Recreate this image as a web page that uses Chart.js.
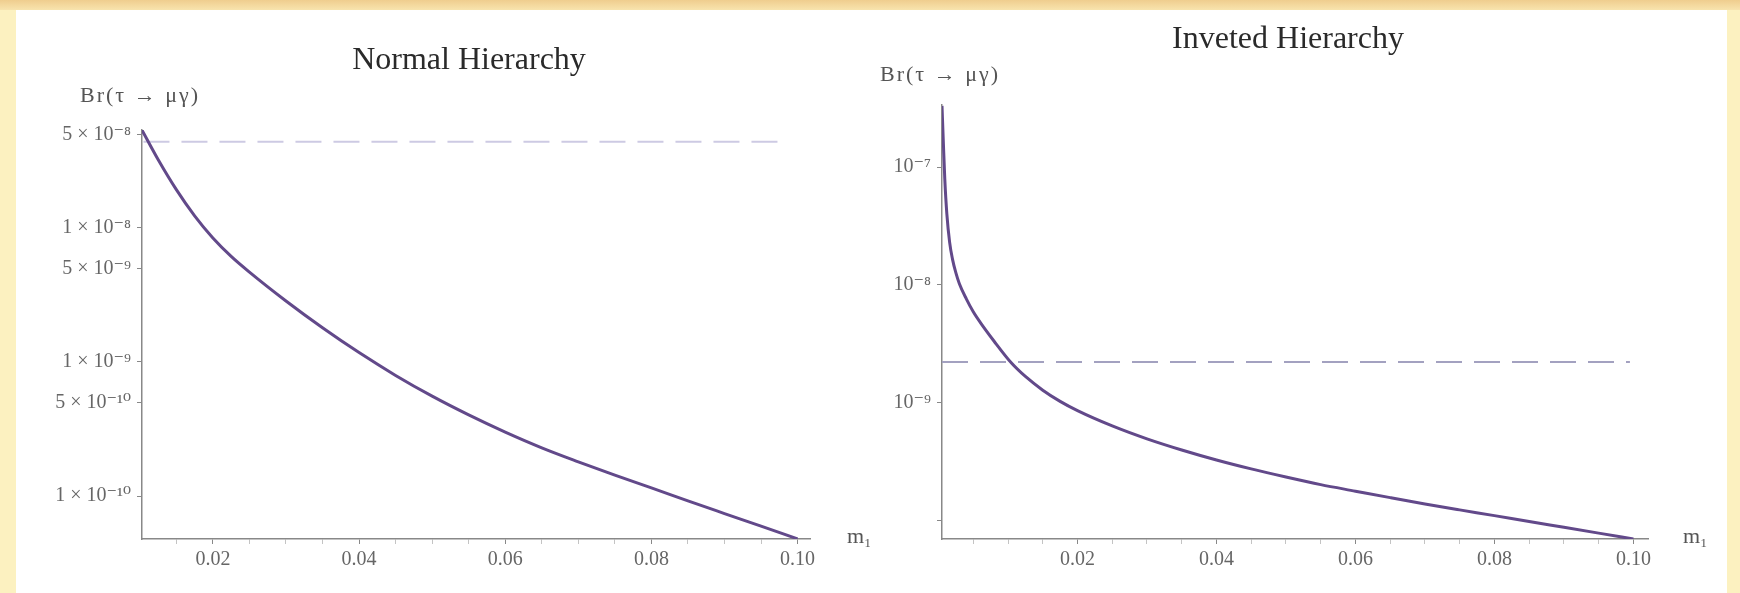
<!DOCTYPE html>
<html>
<head>
<meta charset="utf-8">
<script src="https://cdn.jsdelivr.net/npm/chart.js@4.4.1/dist/chart.umd.min.js"></script>
<style>
body{margin:0;width:1740px;height:593px;overflow:hidden;background:#fcf1c0;position:relative}
#borde{position:absolute;left:0;top:0;width:1740px;height:10px;background:linear-gradient(#efcd8e,#f8e4ae)}
#papel{position:absolute;left:16px;top:10px;width:1711px;height:583px;background:#fff}
canvas{position:absolute;top:0}
#normal{left:0}
#invertida{left:870px}
</style>
</head>
<body>
<div id="borde"></div>
<div id="papel"></div>
<canvas id="normal" width="870" height="593"></canvas>
<canvas id="invertida" width="870" height="593"></canvas>
<script>
// jerarquia normal: m1 vs Br(tau -> mu gamma)
const mNormal = [0.0103, 0.0125, 0.015, 0.0175, 0.02, 0.0225, 0.025, 0.03, 0.035, 0.04, 0.045,
  0.05, 0.055, 0.06, 0.065, 0.07, 0.075, 0.08, 0.085, 0.09, 0.095, 0.10]
const brNormal = [5.37e-8, 3.24e-8, 1.93e-8, 1.23e-8, 8.41e-9, 6.13e-9, 4.68e-9, 2.85e-9, 1.80e-9, 1.175e-9, 7.94e-10,
  5.56e-10, 4.03e-10, 3.0e-10, 2.29e-10, 1.80e-10, 1.43e-10, 1.15e-10, 9.2e-11, 7.4e-11, 5.96e-11, 4.79e-11]

// jerarquia invertida
const mInvertida = [0.0005, 0.0007, 0.0009, 0.0012, 0.0016, 0.002, 0.0025, 0.003, 0.004, 0.005, 0.006, 0.008,
  0.0105, 0.0125, 0.015, 0.0175, 0.02, 0.025, 0.03, 0.035, 0.04, 0.045, 0.05, 0.055, 0.06, 0.065, 0.07,
  0.075, 0.08, 0.085, 0.09, 0.095, 0.10]
const brInvertida = [3.31e-7, 1.585e-7, 7.94e-8, 3.98e-8, 2.29e-8, 1.66e-8, 1.26e-8, 1.02e-8, 7.59e-9, 5.89e-9, 4.79e-9, 3.31e-9,
  2.16e-9, 1.66e-9, 1.27e-9, 1.02e-9, 8.51e-10, 6.31e-10, 4.90e-10, 3.94e-10, 3.24e-10, 2.72e-10, 2.32e-10, 2.0e-10,
  1.76e-10, 1.55e-10, 1.37e-10, 1.22e-10, 1.09e-10, 9.7e-11, 8.67e-11, 7.74e-11, 6.9e-11]

// cotas experimentales (lineas discontinuas)
const cotaNormal = 4.4e-8
const cotaInvertida = 2.2e-9
const cotaXNormal = [0.0105, 0.0985]
const cotaXInvertida = [0.0005, 0.0995]

const ticksX = [0.02, 0.04, 0.06, 0.08, 0.10]
const etiquetasX = ['0.02', '0.04', '0.06', '0.08', '0.10']
const ticksXMenores = [0.005, 0.01, 0.015, 0.025, 0.03, 0.035, 0.045, 0.05, 0.055, 0.065, 0.07, 0.075, 0.085, 0.09, 0.095]
const ticksYNormal = [5e-8, 1e-8, 5e-9, 1e-9, 5e-10, 1e-10]
const etiquetasYNormal = ['5 × 10⁻⁸', '1 × 10⁻⁸', '5 × 10⁻⁹', '1 × 10⁻⁹', '5 × 10⁻¹⁰', '1 × 10⁻¹⁰']
const ticksYInvertida = [1e-7, 1e-8, 1e-9, 1e-10]
const etiquetasYInvertida = ['10⁻⁷', '10⁻⁸', '10⁻⁹', '']

const fuente = '"Liberation Serif", "DejaVu Serif", serif'

const textos = {
    id: 'textos',
    afterDraw(chart, args, op) {
        const ctx = chart.ctx
        ctx.save()
        ctx.textBaseline = 'middle'
        ctx.fillStyle = '#2a2a2a'
        ctx.font = '32px ' + fuente
        ctx.textAlign = 'center'
        ctx.fillText(op.titulo, op.tituloX, op.tituloY)
        ctx.fillStyle = '#555'
        ctx.font = '22px ' + fuente
        ctx.textAlign = 'left'
        ctx.letterSpacing = '2px'
        ctx.fillText('Br(τ → μγ)', op.ejeYX, op.ejeYY)
        ctx.letterSpacing = '0px'
        ctx.fillText('m₁', op.ejeXX, op.ejeXY)
        ctx.restore()
    }
}

const puntos = (xs, ys) => xs.map((x, i) => ({ x: x, y: ys[i] }))

const grafico = (id, m, br, cotaX, cota, colorCota, xMin, xMax, yMin, yMax, ticksY, etiquetasY, anchoY, padding, txt) => {
    const ctx = document.getElementById(id).getContext('2d')
    const ticksXTodos = ticksX.concat(ticksXMenores.filter(v => v > xMin))
    return new Chart(ctx, {
        type: 'line',
        data: {
            datasets: [{
                data: puntos(m, br),
                borderColor: '#62498a',
                borderWidth: 3,
                pointRadius: 0,
                cubicInterpolationMode: 'monotone',
                fill: false
            }, {
                data: puntos(cotaX, [cota, cota]),
                borderColor: colorCota,
                borderWidth: 2,
                borderDash: [26, 12],
                pointRadius: 0,
                fill: false
            }]
        },
        options: {
            responsive: false,
            animation: false,
            layout: { padding: padding },
            plugins: {
                legend: { display: false },
                tooltip: { enabled: false },
                textos: txt
            },
            scales: {
                x: {
                    type: 'linear',
                    min: xMin,
                    max: xMax,
                    afterBuildTicks: (s) => { s.ticks = ticksXTodos.map(v => ({ value: v })) },
                    afterFit: (s) => { s.height = 40 },
                    ticks: {
                        autoSkip: false,
                        maxRotation: 0,
                        padding: 4,
                        color: '#666',
                        font: { family: fuente, size: 20 },
                        callback: (v) => ticksX.includes(v) ? etiquetasX[ticksX.indexOf(v)] : ''
                    },
                    grid: {
                        drawOnChartArea: false,
                        tickLength: 5,
                        tickColor: (c) => ticksX.includes(c.tick.value) ? '#888' : '#c4c4c4'
                    },
                    border: { color: '#888', width: 1.5 }
                },
                y: {
                    type: 'logarithmic',
                    min: yMin,
                    max: yMax,
                    afterBuildTicks: (s) => { s.ticks = ticksY.map(v => ({ value: v })) },
                    afterFit: (s) => { s.width = anchoY },
                    ticks: {
                        autoSkip: false,
                        padding: 6,
                        color: '#666',
                        font: { family: fuente, size: 20 },
                        callback: (v) => etiquetasY[ticksY.indexOf(v)]
                    },
                    grid: { drawOnChartArea: false, tickLength: 5, color: '#888' },
                    border: { color: '#888', width: 1.5 }
                }
            }
        },
        plugins: [textos]
    })
}

grafico('normal', mNormal, brNormal, cotaXNormal, cotaNormal, '#cdcae3',
    0.0103, 0.1017, 4.78e-11, 5.38e-8, ticksYNormal, etiquetasYNormal, 142,
    { left: 0, top: 130, right: 60, bottom: 14 },
    { titulo: 'Normal Hierarchy', tituloX: 469, tituloY: 61, ejeYX: 80, ejeYY: 96, ejeXX: 847, ejeXY: 537 })

grafico('invertida', mInvertida, brInvertida, cotaXInvertida, cotaInvertida, '#a3a1c0',
    0.0005, 0.1021, 6.9e-11, 3.37e-7, ticksYInvertida, etiquetasYInvertida, 72,
    { left: 0, top: 105, right: 92, bottom: 14 },
    { titulo: 'Inveted Hierarchy', tituloX: 418, tituloY: 40, ejeYX: 10, ejeYY: 75, ejeXX: 813, ejeXY: 537 })
</script>
</body>
</html>
